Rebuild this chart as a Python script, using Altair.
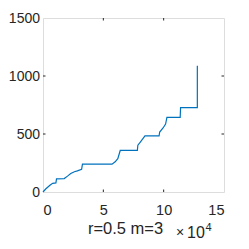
import altair as alt
import pandas as pd

# data (x in units of 1e4)
xs = [0, 0.22, 0.6, 0.8, 1.07, 1.12, 1.76, 2.03, 2.3, 2.6, 2.85, 3.2, 3.27, 5.72, 5.98, 6.2, 6.4, 7.82, 7.86, 8.05, 8.45, 9.62, 9.67, 9.95, 10.16, 10.27, 11.37, 11.4, 12.79, 12.79]
ys = [0, 26, 60, 75, 78, 113, 116, 137, 160, 175, 182, 195, 240, 240, 260, 288, 358, 358, 403, 428, 483, 483, 517, 552, 586, 644, 644, 727, 727, 1089]

x_ticks_inner = [5, 10]
y_ticks_inner = [500, 1000]

W, H = 181, 174
df = pd.DataFrame({"x": xs, "y": ys, "i": list(range(len(xs)))})

xscale = alt.Scale(domain=[0, 15], nice=False, zero=False)
yscale = alt.Scale(domain=[0, 1500], nice=False, zero=False)

FONT = "Liberation Sans"
GRAY = "#262626"

line = alt.Chart(df).mark_line(color="#0072BD", strokeWidth=1.2).encode(
    x=alt.X("x:Q", scale=xscale, axis=alt.Axis(
        values=[0, 5, 10, 15], format="d", title="r=0.5 m=3", domain=False, ticks=False, grid=False,
        labelFont=FONT, labelFontSize=14.5, labelColor=GRAY, labelPadding=11,
        titleFont=FONT, titleFontSize=16.5, titleFontWeight="normal", titleColor=GRAY,
        titlePadding=4, titleX=82)),
    y=alt.Y("y:Q", scale=yscale, axis=alt.Axis(
        values=[0, 500, 1000, 1500], format="d", title=None, domain=False, ticks=False, grid=False,
        labelFont=FONT, labelFontSize=14, labelColor=GRAY, labelPadding=3.5)),
    order="i:Q",
)

xt = pd.DataFrame({"x": x_ticks_inner})
yt = pd.DataFrame({"y": y_ticks_inner})
tick_b = alt.Chart(xt).mark_rule(color=GRAY, strokeWidth=1).encode(
    x=alt.X("x:Q", scale=xscale), y=alt.value(H), y2=alt.value(H - 2.5))
tick_t = alt.Chart(xt).mark_rule(color=GRAY, strokeWidth=1).encode(
    x=alt.X("x:Q", scale=xscale), y=alt.value(0), y2=alt.value(2.5))
tick_l = alt.Chart(yt).mark_rule(color=GRAY, strokeWidth=1).encode(
    y=alt.Y("y:Q", scale=yscale), x=alt.value(0), x2=alt.value(2.5))
tick_r = alt.Chart(yt).mark_rule(color=GRAY, strokeWidth=1).encode(
    y=alt.Y("y:Q", scale=yscale), x=alt.value(W), x2=alt.value(W - 2.5))

exp_x = alt.Chart(pd.DataFrame({"t": ["\u00d7"]})).mark_text(
    font=FONT, fontSize=14, color=GRAY, align="left", baseline="alphabetic").encode(
    text="t:N", x=alt.value(133), y=alt.value(H + 45))
exp_main = alt.Chart(pd.DataFrame({"t": ["10"]})).mark_text(
    font=FONT, fontSize=16, color=GRAY, align="left", baseline="alphabetic").encode(
    text="t:N", x=alt.value(144), y=alt.value(H + 46))
exp_sup = alt.Chart(pd.DataFrame({"t": ["4"]})).mark_text(
    font=FONT, fontSize=11, color=GRAY, align="left", baseline="alphabetic").encode(
    text="t:N", x=alt.value(162.5), y=alt.value(H + 39))

chart = alt.layer(line, tick_b, tick_t, tick_l, tick_r, exp_x, exp_main, exp_sup).properties(
    width=W, height=H,
    autosize=alt.AutoSizeParams(type="none"),
    padding={"left": 35, "top": 10, "right": 17, "bottom": 49},
).configure_view(stroke=GRAY, strokeWidth=1).configure(background="white")

chart.save("out.html", embed_options={"renderer": "svg", "actions": False})
